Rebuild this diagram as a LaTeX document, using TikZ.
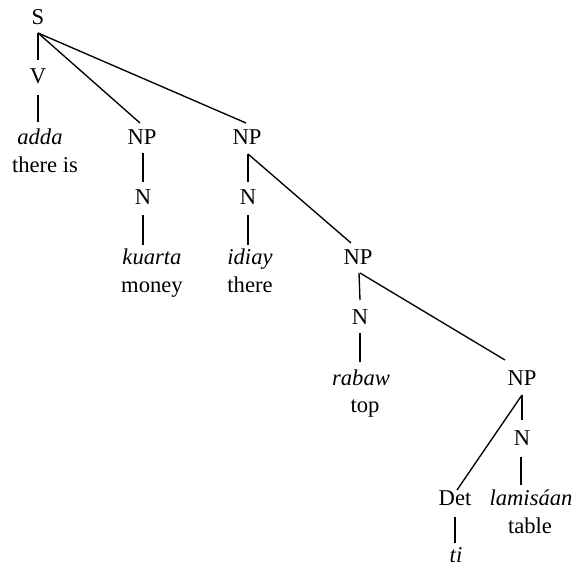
\documentclass[tikz,border=0pt]{standalone}
\usepackage{fontspec}
\setmainfont{Liberation Serif}
\begin{document}
\begin{tikzpicture}[x=1pt,y=-1pt,
  every node/.style={font=\fontsize{22.6}{26}\selectfont, inner sep=0pt, anchor=base},
  word/.style={font=\fontsize{22.6}{26}\selectfont\itshape},
  edge/.style={line width=1.35pt}]
\useasboundingbox (0,0) rectangle (576,569);
\node (S) at (38,25) {S};
\node (V) at (38,84) {V};
\node[word] (adda) at (40,145) {adda};
\node (thereis) at (45,173) {there is};
\node (NPa) at (142,145) {NP};
\node (Na) at (143,205) {N};
\node[word] (kuarta) at (152,265) {kuarta};
\node (money) at (152,293) {money};
\node (NPb) at (247,145) {NP};
\node (Nb) at (248,205) {N};
\node[word] (idiay) at (250,265) {idiay};
\node (there) at (250,293) {there};
\node (NPc) at (358,265) {NP};
\node (Nc) at (360,325) {N};
\node[word] (rabaw) at (361,385) {rabaw};
\node (top) at (365,413) {top};
\node (NPd) at (522,385) {NP};
\node (Nd) at (522,445) {N};
\node (Det) at (455,505) {Det};
\node[word] (lamisaan) at (531,505) {lamisáan};
\node (table) at (530,533) {table};
\node[word] (ti) at (456,562) {ti};
\draw[edge] ([shift={(0,8)}]S.base) -- ([shift={(0,-24)}]V.base);
\draw[edge] ([shift={(0,8)}]S.base) -- ([shift={(-2,-22)}]NPa.base);
\draw[edge] ([shift={(0,8)}]S.base) -- ([shift={(-1,-22)}]NPb.base);
\draw[edge] ([shift={(0,11)}]V.base) -- ([shift={(-2,-23)}]adda.base);
\draw[edge] ([shift={(1,8)}]NPa.base) -- ([shift={(0,-23)}]Na.base);
\draw[edge] ([shift={(0,10)}]Na.base) -- ([shift={(-9,-20)}]kuarta.base);
\draw[edge] ([shift={(1,9)}]NPb.base) -- ([shift={(0,-23)}]Nb.base);
\draw[edge] ([shift={(1,9)}]NPb.base) -- ([shift={(-7,-22)}]NPc.base);
\draw[edge] ([shift={(0,10)}]Nb.base) -- ([shift={(-2,-20)}]idiay.base);
\draw[edge] ([shift={(1,8)}]NPc.base) -- ([shift={(0,-25)}]Nc.base);
\draw[edge] ([shift={(2,8)}]NPc.base) -- ([shift={(-17,-25)}]NPd.base);
\draw[edge] ([shift={(0,8)}]Nc.base) -- ([shift={(-1,-23)}]rabaw.base);
\draw[edge] ([shift={(0,10)}]NPd.base) -- ([shift={(0,-25)}]Nd.base);
\draw[edge] ([shift={(0,10)}]NPd.base) -- ([shift={(2,-15)}]Det.base);
\draw[edge] ([shift={(-1,12)}]Nd.base) -- ([shift={(-10,-20)}]lamisaan.base);
\draw[edge] ([shift={(0,12)}]Det.base) -- ([shift={(-1,-19)}]ti.base);
\end{tikzpicture}
\end{document}
